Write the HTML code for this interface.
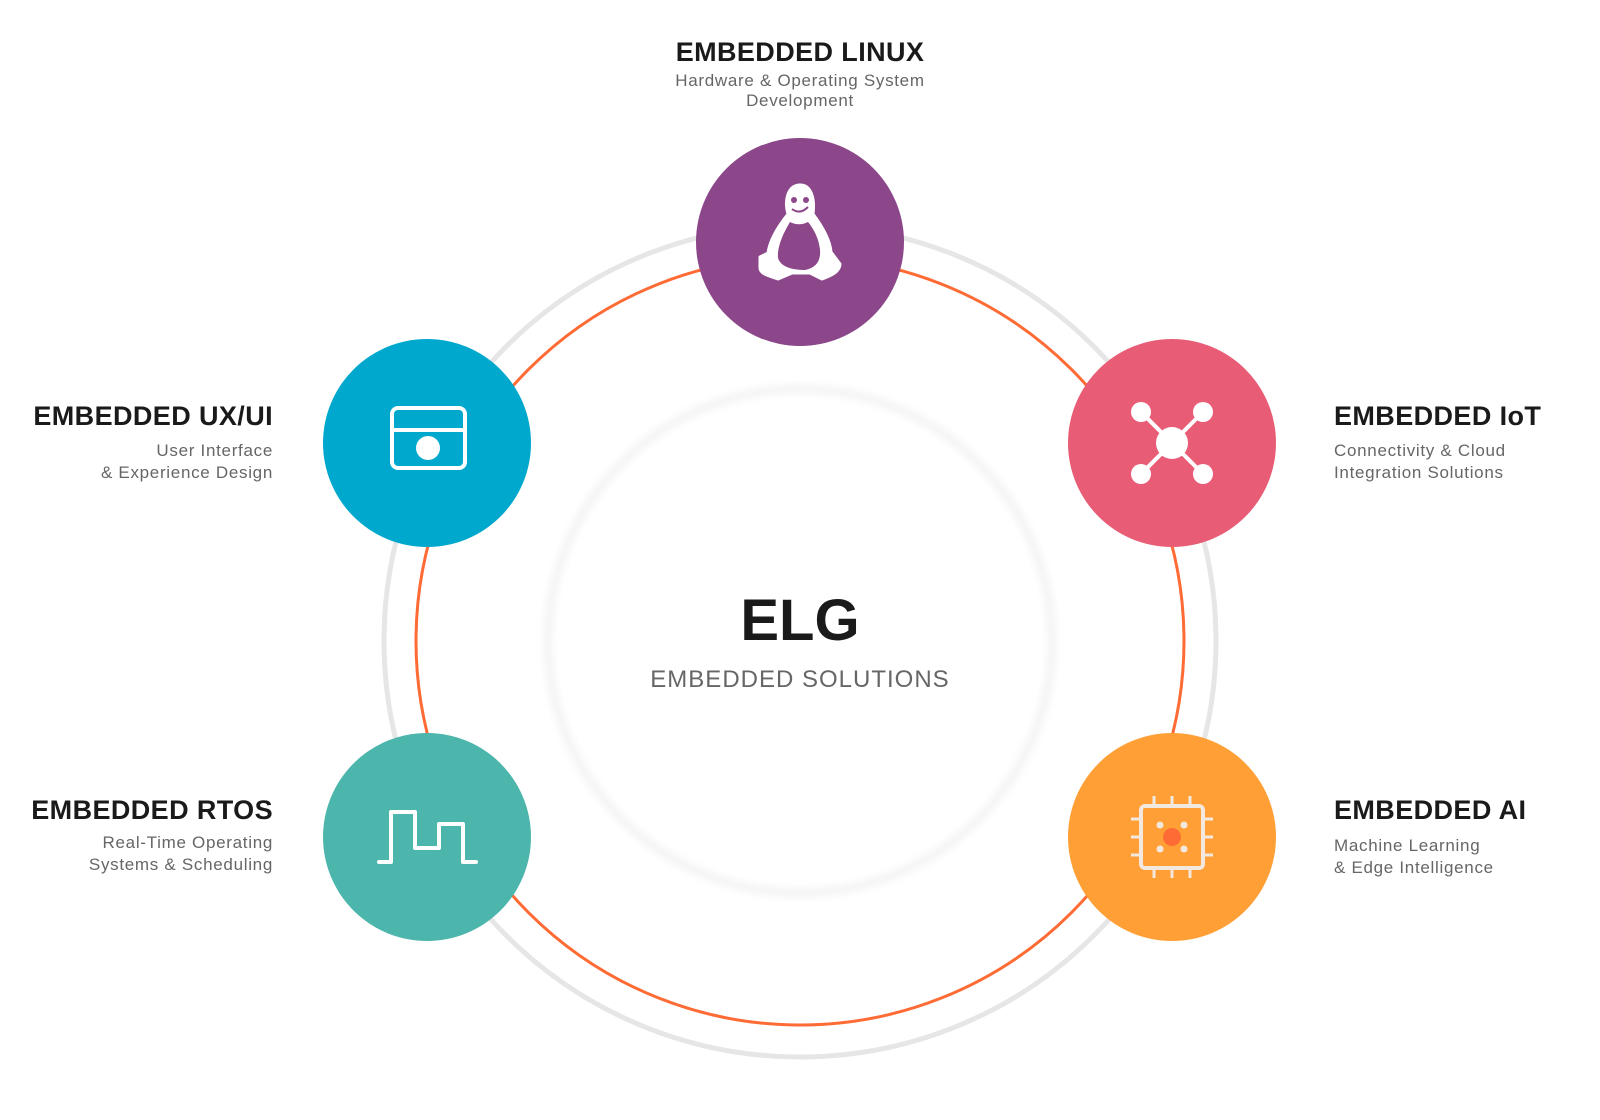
<!DOCTYPE html>
<html><head><meta charset="utf-8"><style>
html,body{margin:0;padding:0;background:#fff;}
body{width:1600px;height:1120px;position:relative;overflow:hidden;font-family:"Liberation Sans",sans-serif;}
.t{position:absolute;font-weight:bold;font-size:27px;color:#1a1a1a;white-space:nowrap;letter-spacing:0.4px}
.s{position:absolute;font-size:17px;color:#666;line-height:22px;white-space:nowrap;letter-spacing:0.7px}
</style></head><body>
<svg width="1600" height="1120" style="position:absolute;left:0;top:0">
<defs><filter id="b" x="-20%" y="-20%" width="140%" height="140%"><feGaussianBlur stdDeviation="4"/></filter></defs>
<circle cx="800" cy="641" r="252" fill="none" stroke="#f3f3f3" stroke-width="8" filter="url(#b)"/>
<circle cx="800" cy="641" r="416" fill="none" stroke="#e6e6e6" stroke-width="5"/>
<circle cx="800" cy="641" r="384" fill="none" stroke="#FF6B35" stroke-width="3"/>
<circle cx="800" cy="242" r="104" fill="#8B4789"/>
<circle cx="1172" cy="443" r="104" fill="#E85D75"/>
<circle cx="427" cy="443" r="104" fill="#00A8CE"/>
<circle cx="427" cy="837" r="104" fill="#4DB6AC"/>
<circle cx="1172" cy="837" r="104" fill="#FF9F35"/>
<!-- penguin -->
<g fill="none" stroke="#fff" stroke-width="3" stroke-linejoin="round" stroke-linecap="round">
<path d="M788 214 C784 200 788 186 799 185 C811 184 815 198 813 214 C822 226 830 240 831 252 L840 264 C840 272 830 276 822 279 L810 273 L792 273 L778 279 C770 276 760 274 760 268 L760 257 L768 253 C770 238 780 224 788 214 Z" fill="#fff"/>
<path d="M790 222 C784 232 777 246 778 258 C781 268 795 270 805 270 C815 268 821 262 820 250 C819 238 813 228 808 222 C802 225 796 225 790 222 Z" fill="#8B4789" stroke="none"/>
</g>
<circle cx="794" cy="200" r="3" fill="#8B4789"/><circle cx="806" cy="200" r="3" fill="#8B4789"/>
<path d="M792 209 Q800 215 808 207" fill="none" stroke="#8B4789" stroke-width="2"/>
<!-- UX icon -->
<rect x="392" y="408" width="73" height="60" rx="6" fill="none" stroke="#fff" stroke-width="4"/>
<line x1="392" y1="430" x2="465" y2="430" stroke="#fff" stroke-width="4"/>
<circle cx="428" cy="448" r="12" fill="#fff"/>
<!-- IoT icon -->
<g stroke="#fff" stroke-width="4"><line x1="1140" y1="411" x2="1204" y2="475"/><line x1="1204" y1="411" x2="1140" y2="475"/></g>
<g fill="#fff"><circle cx="1172" cy="443" r="16"/><circle cx="1141" cy="412" r="10"/><circle cx="1203" cy="412" r="10"/><circle cx="1141" cy="474" r="10"/><circle cx="1203" cy="474" r="10"/></g>
<!-- RTOS icon -->
<polyline points="379,862 391,862 391,812 415,812 415,848 439,848 439,824 463,824 463,862 476,862" fill="none" stroke="#fff" stroke-width="4" stroke-linecap="round" stroke-linejoin="round"/>
<!-- AI icon -->
<g stroke="#f3e8dd" stroke-width="3" fill="none">
<rect x="1141" y="806" width="62" height="62" rx="4" stroke-width="4"/>
<line x1="1154" y1="796" x2="1154" y2="806"/><line x1="1172" y1="796" x2="1172" y2="806"/><line x1="1190" y1="796" x2="1190" y2="806"/>
<line x1="1154" y1="868" x2="1154" y2="878"/><line x1="1172" y1="868" x2="1172" y2="878"/><line x1="1190" y1="868" x2="1190" y2="878"/>
<line x1="1131" y1="819" x2="1141" y2="819"/><line x1="1131" y1="837" x2="1141" y2="837"/><line x1="1131" y1="855" x2="1141" y2="855"/>
<line x1="1203" y1="819" x2="1213" y2="819"/><line x1="1203" y1="837" x2="1213" y2="837"/><line x1="1203" y1="855" x2="1213" y2="855"/>
</g>
<g fill="#f3e8dd"><circle cx="1160" cy="825" r="3.5"/><circle cx="1184" cy="825" r="3.5"/><circle cx="1160" cy="849" r="3.5"/><circle cx="1184" cy="849" r="3.5"/></g>
<circle cx="1172" cy="837" r="9" fill="#FF6B35"/>
<text x="800" y="640" text-anchor="middle" font-family="Liberation Sans, sans-serif" font-weight="bold" font-size="58" fill="#1a1a1a">ELG</text>
<text x="800" y="687" text-anchor="middle" font-family="Liberation Sans, sans-serif" font-size="24" fill="#666" letter-spacing="1">EMBEDDED SOLUTIONS</text>
</svg>
<div class="t" style="left:0;width:1600px;text-align:center;top:37px">EMBEDDED LINUX</div>
<div class="s" style="left:0;width:1600px;text-align:center;top:71px;line-height:20px">Hardware &amp; Operating System<br>Development</div>
<div class="t" style="left:1334px;top:401px">EMBEDDED IoT</div>
<div class="s" style="left:1334px;top:440px">Connectivity &amp; Cloud<br>Integration Solutions</div>
<div class="t" style="right:1327px;top:401px;text-align:right">EMBEDDED UX/UI</div>
<div class="s" style="right:1327px;top:440px;text-align:right">User Interface<br>&amp; Experience Design</div>
<div class="t" style="right:1327px;top:795px;text-align:right">EMBEDDED RTOS</div>
<div class="s" style="right:1327px;top:832px;text-align:right">Real-Time Operating<br>Systems &amp; Scheduling</div>
<div class="t" style="left:1334px;top:795px">EMBEDDED AI</div>
<div class="s" style="left:1334px;top:835px">Machine Learning<br>&amp; Edge Intelligence</div>
</body></html>
